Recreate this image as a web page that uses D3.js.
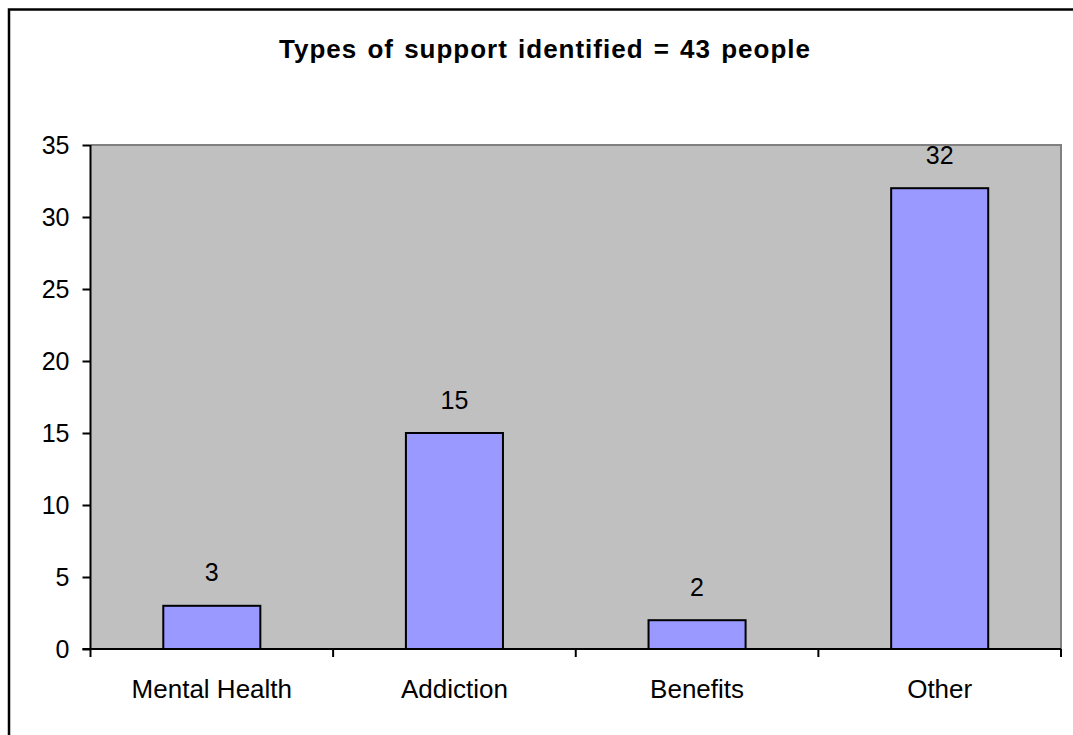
<!DOCTYPE html>
<html><head><meta charset="utf-8">
<script src="https://cdn.jsdelivr.net/npm/d3@7"></script>
<style>html,body{margin:0;padding:0;background:#fff;overflow:hidden}</style>
</head><body>
<script>
const categories = ["Mental Health", "Addiction", "Benefits", "Other"];
const values = [3, 15, 2, 32];
const yTicks = [0, 5, 10, 15, 20, 25, 30, 35];
const title = "Types of support identified = 43 people";

const W = 1073, H = 735;
const svg = d3.select("body").append("svg").attr("width", W).attr("height", H);
const font = "'Liberation Sans', Arial, sans-serif";

// outer frame (extends past the window on right and bottom)
svg.append("rect").attr("x", 9).attr("y", 9.5).attr("width", W + 20).attr("height", H + 20)
  .attr("fill", "#fff").attr("stroke", "#000").attr("stroke-width", 2.5);

const L = 90.5, R = 1061, T = 145, B = 649;
const x = d3.scaleBand().domain(categories).range([L, R]).paddingInner(0.6).paddingOuter(0.3);
const xEdges = d3.scaleLinear().domain([0, categories.length]).range([L, R]);
const y = d3.scaleLinear().domain([0, 35]).range([B, T]);

// plot area
svg.append("rect").attr("x", L).attr("y", T).attr("width", R - L).attr("height", B - T)
  .attr("fill", "#C0C0C0");
svg.append("path").attr("d", `M${L},${T}H${R}V${B}`).attr("fill", "none")
  .attr("stroke", "#808080").attr("stroke-width", 2);

// bars
svg.selectAll("rect.bar").data(values).join("rect").attr("class", "bar")
  .attr("x", (d, i) => x(categories[i]))
  .attr("y", d => y(d))
  .attr("width", x.bandwidth())
  .attr("height", d => y(0) - y(d))
  .attr("fill", "#9999FF").attr("stroke", "#000").attr("stroke-width", 2);

// data labels
svg.selectAll("text.lbl").data(values).join("text").attr("class", "lbl")
  .attr("x", (d, i) => x(categories[i]) + x.bandwidth() / 2)
  .attr("y", d => y(d) - 24.5)
  .attr("text-anchor", "middle").attr("font-family", font).attr("font-size", 25)
  .attr("fill", "#000").text(d => d);

// y axis
const yAxis = svg.append("g").attr("transform", `translate(${L},0)`)
  .call(d3.axisLeft(y).tickValues(yTicks).tickSize(8).tickPadding(13));
yAxis.select(".domain").attr("stroke", "#000").attr("stroke-width", 2).attr("d", `M0,${T}V${B}`);
yAxis.selectAll(".tick line").attr("stroke", "#000").attr("stroke-width", 2);
yAxis.selectAll(".tick text").attr("font-family", font).attr("font-size", 25).attr("fill", "#000")
  .attr("dy", "0.35em");

// x axis
const xg = svg.append("g");
xg.append("line").attr("x1", L - 8).attr("x2", R).attr("y1", B).attr("y2", B)
  .attr("stroke", "#000").attr("stroke-width", 2);
xg.selectAll("line.xt").data(d3.range(categories.length + 1)).join("line").attr("class", "xt")
  .attr("x1", i => xEdges(i)).attr("x2", i => xEdges(i)).attr("y1", B).attr("y2", B + 8)
  .attr("stroke", "#000").attr("stroke-width", 2);
xg.selectAll("text").data(categories).join("text")
  .attr("x", d => x(d) + x.bandwidth() / 2).attr("y", 698)
  .attr("text-anchor", "middle").attr("font-family", font).attr("font-size", 26)
  .attr("fill", "#000").text(d => d);

// title
const tt = svg.append("text").attr("x", 545).attr("y", 58).attr("text-anchor", "middle")
  .attr("font-family", font).attr("font-size", 26).attr("font-weight", "bold")
  .attr("word-spacing", 2)
  .attr("fill", "#000").text(title);
const tLen = tt.node().getComputedTextLength();
const ls = Math.max(0, (531 - tLen) / (title.length - 1));
tt.attr("letter-spacing", ls.toFixed(2));
</script>
</body></html>
